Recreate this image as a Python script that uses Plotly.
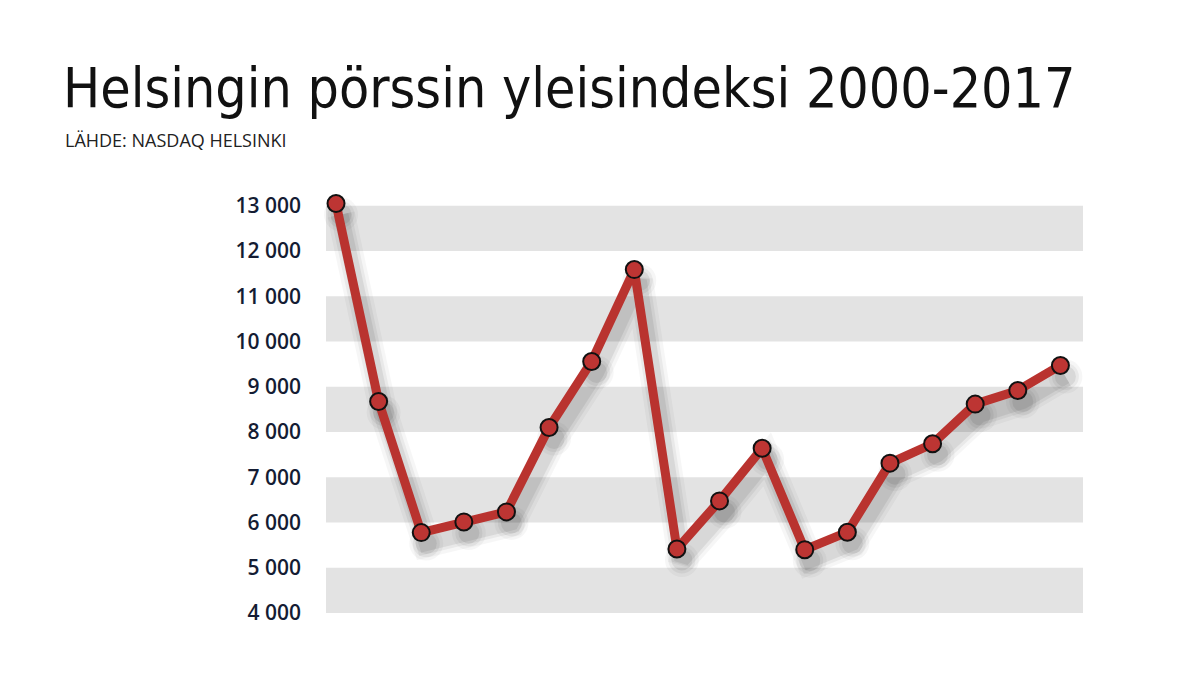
import plotly.graph_objects as go

years = list(range(2000, 2018))
values = [13050, 8675, 5777, 6013, 6235, 8100, 9560, 11590, 5416, 6478,
          7640, 5400, 5785, 7312, 7740, 8617, 8918, 9471]
tick_vals = [4000, 5000, 6000, 7000, 8000, 9000, 10000, 11000, 12000, 13000]
tick_text = ["4 000", "5 000", "6 000", "7 000", "8 000", "9 000",
             "10 000", "11 000", "12 000", "13 000"]
band_pairs = [(12000, 13000), (10000, 11000), (8000, 9000), (6000, 7000), (4000, 5000)]

OFF = 8  # page body offset
W, H = 1198 - 2 * OFF, 674 - 2 * OFF
px_per_k = (613 - 206) / 9.0
y_range = [4000, 13150]
top_px = 613 - (y_range[1] - 4000) / 1000 * px_per_k
ml, mr = 326 - OFF, (W + OFF) - 1083
mt, mb = top_px - OFF, (H + OFF) - 613
x_range = [-0.235, 17.53]
plot_w = W - ml - mr
plot_h = H - mt - mb
ux = (x_range[1] - x_range[0]) / plot_w
uy = (y_range[1] - y_range[0]) / plot_h

LINE = "#b9332f"
xs = list(range(len(years)))
fig = go.Figure()

# invisible trace to anchor main axes
fig.add_trace(go.Scatter(x=xs, y=values, mode="none", hoverinfo="skip", showlegend=False))

# soft drop shadow on shifted overlay axes (drawn below the line's overlay)
for width, alpha in [(28, 0.035), (21, 0.05), (15, 0.07)]:
    fig.add_trace(go.Scatter(
        x=xs, y=values, mode="lines+markers",
        xaxis="x2", yaxis="y2",
        line=dict(color=f"rgba(0,0,0,{alpha})", width=width),
        marker=dict(size=width + 6, color=f"rgba(0,0,0,{alpha})"),
        hoverinfo="skip", showlegend=False, cliponaxis=False))

fig.add_trace(go.Scatter(
    x=xs, y=values, mode="lines+markers",
    xaxis="x3", yaxis="y3",
    line=dict(color=LINE, width=9),
    marker=dict(size=17, color="#bd3533", line=dict(color="#111", width=2)),
    text=[str(y) for y in years], hovertemplate="%{text}: %{y}<extra></extra>",
    showlegend=False, cliponaxis=False))

shapes = []
for lo, hi in band_pairs:
    shapes.append(dict(type="rect", xref="paper", yref="y", x0=0, x1=1, y0=lo, y1=hi,
                       fillcolor="#e3e3e3", line=dict(width=0), layer="below"))

dx, dy = 5, 11
fig.update_layout(
    width=W, height=H,
    margin=dict(l=ml, r=mr, t=mt, b=mb, autoexpand=False),
    paper_bgcolor="white", plot_bgcolor="white",
    shapes=shapes,
    xaxis=dict(range=x_range, visible=False, fixedrange=True),
    yaxis=dict(range=y_range, tickvals=tick_vals, ticktext=tick_text,
               showgrid=False, zeroline=False, showline=False, ticks="",
               ticklabelstandoff=24, fixedrange=True,
               tickfont=dict(family="Open Sans", size=21, color="#141c33", weight=600)),
    xaxis2=dict(range=[x_range[0] - dx * ux, x_range[1] - dx * ux], overlaying="x",
                visible=False, fixedrange=True),
    yaxis2=dict(range=[y_range[0] + dy * uy, y_range[1] + dy * uy], overlaying="y",
                visible=False, fixedrange=True),
    xaxis3=dict(range=x_range, overlaying="x", visible=False, fixedrange=True),
    yaxis3=dict(range=y_range, overlaying="y", visible=False, fixedrange=True),
    title=dict(text="Helsingin pörssin yleisindeksi 2000-2017",
               xref="container", yref="container", x=(63 - OFF) / W, xanchor="left",
               y=1 - (88 - OFF) / H, yanchor="middle",
               font=dict(family="DejaVu Sans Condensed, Liberation Sans Narrow, Roboto, sans-serif",
                         size=55, color="#111")),
    annotations=[dict(text="LÄHDE: NASDAQ HELSINKI", xref="paper", yref="paper",
                      x=(63 - 326) / plot_w, y=1 + (top_px - 140) / plot_h,
                      xanchor="left", yanchor="middle", showarrow=False,
                      font=dict(family="Open Sans", size=18, color="#222"))],
)

fig.write_html("out.html")
